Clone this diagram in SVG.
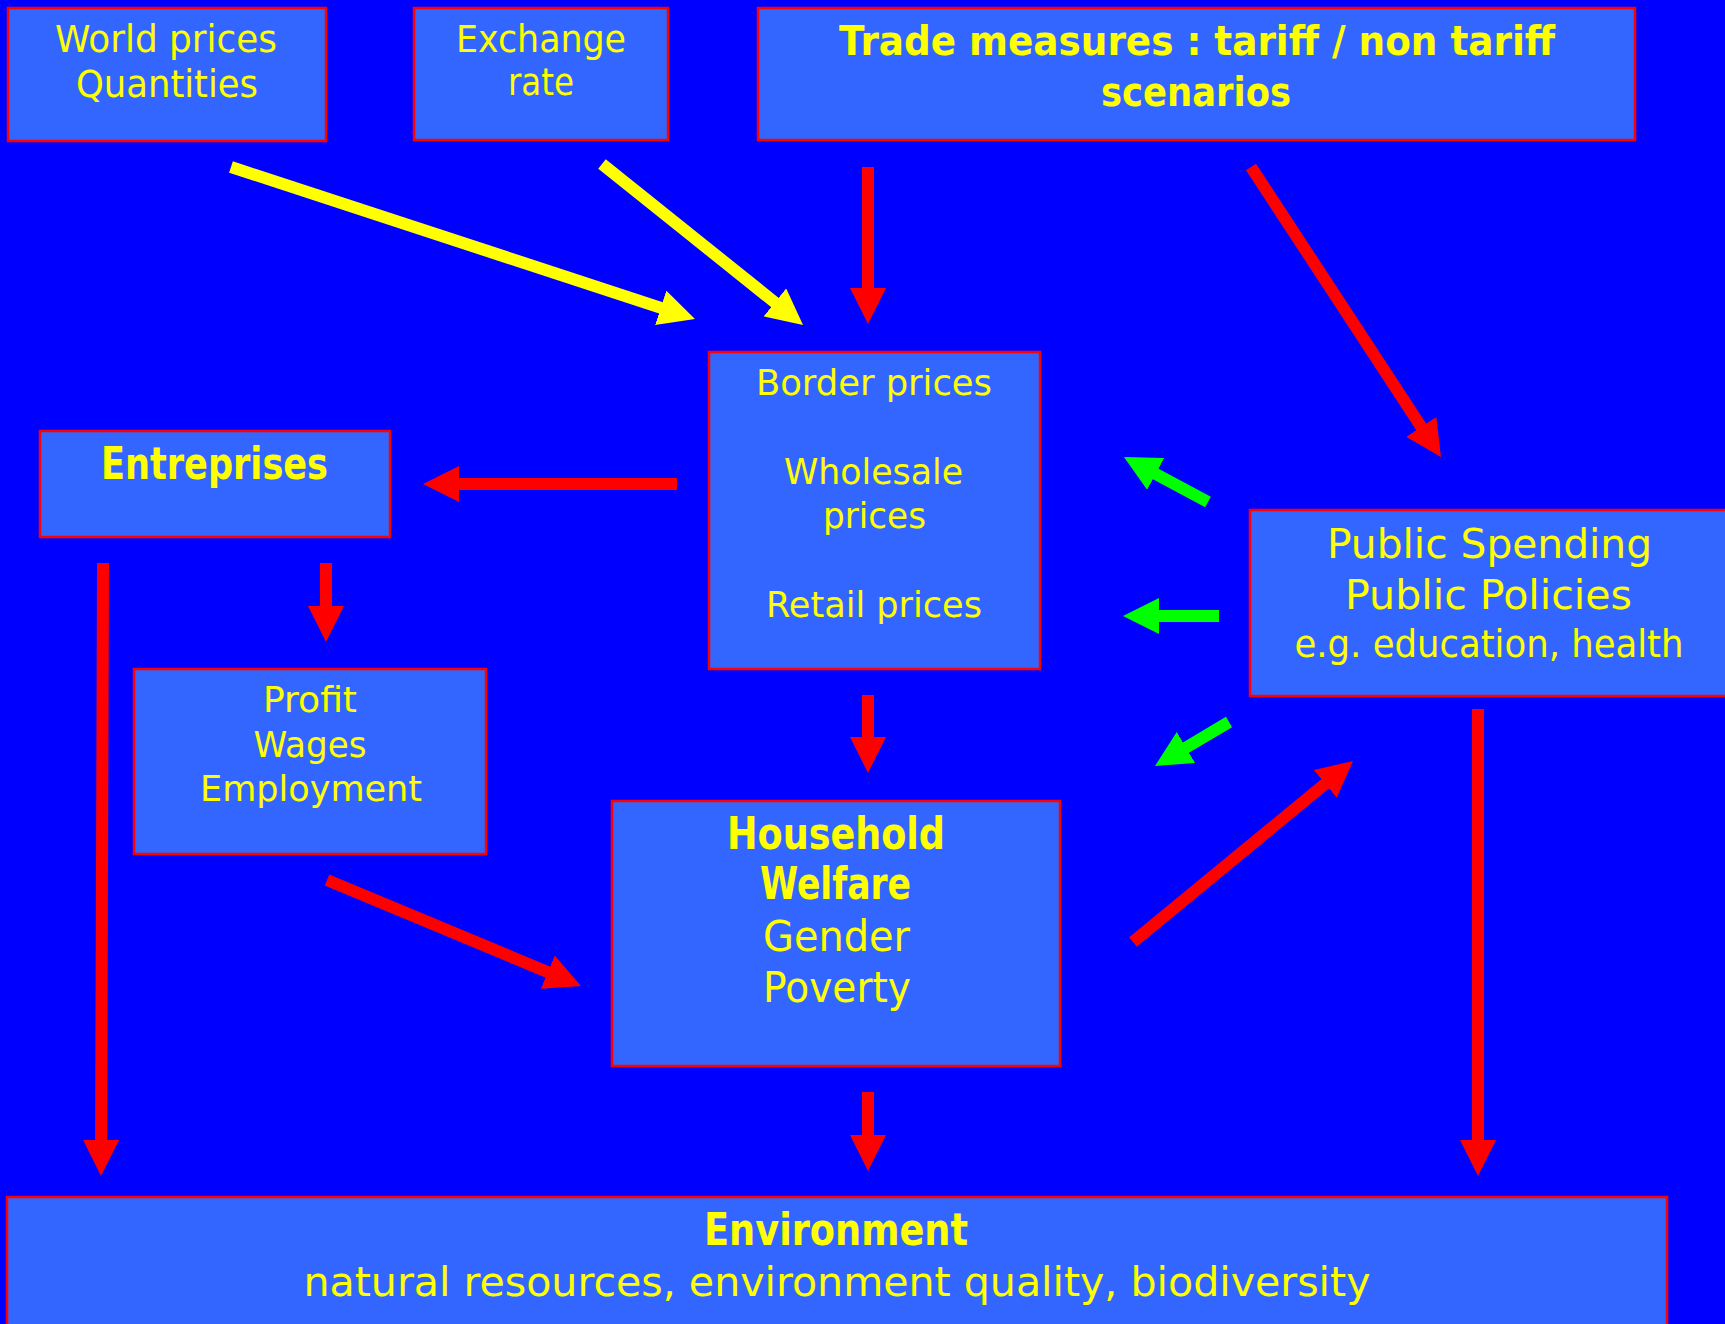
<svg xmlns="http://www.w3.org/2000/svg" width="1725" height="1324" viewBox="0 0 1725 1324">
<defs>
<style>
.box{fill:#3366FF;stroke:#FF0000;stroke-width:2.5}
.t{font-family:"DejaVu Sans",sans-serif;fill:#FFFF00;text-anchor:middle}
.b{font-weight:bold}
.r{stroke:#FF0000;stroke-width:12;fill:none}
.y{stroke:#FFFF00;stroke-width:12;fill:none}
.g{stroke:#00FF00;stroke-width:12;fill:none}
</style>
<marker id="hr" markerUnits="userSpaceOnUse" markerWidth="37" markerHeight="36" refX="1" refY="18" orient="auto"><path d="M0,0 L36,18 L0,36 Z" fill="#FF0000"/></marker>
<marker id="hy" markerUnits="userSpaceOnUse" markerWidth="37" markerHeight="36" refX="1" refY="18" orient="auto"><path d="M0,0 L36,18 L0,36 Z" fill="#FFFF00"/></marker>
<marker id="hg" markerUnits="userSpaceOnUse" markerWidth="37" markerHeight="36" refX="1" refY="18" orient="auto"><path d="M0,0 L36,18 L0,36 Z" fill="#00FF00"/></marker>
</defs>
<rect x="0" y="0" width="1725" height="1324" fill="#0000FF"/>

<g id="world">
<rect class="box" x="8" y="8" width="318" height="133"/>
<text class="t" x="166" y="52" font-size="37" textLength="222" lengthAdjust="spacingAndGlyphs">World prices</text>
<text class="t" x="167" y="97" font-size="37" textLength="182" lengthAdjust="spacingAndGlyphs">Quantities</text>
</g>
<g id="exchange">
<rect class="box" x="414" y="8" width="254" height="132"/>
<text class="t" x="541" y="52" font-size="37" textLength="170" lengthAdjust="spacingAndGlyphs">Exchange</text>
<text class="t" x="541" y="95" font-size="37" textLength="66" lengthAdjust="spacingAndGlyphs">rate</text>
</g>
<g id="trade">
<rect class="box" x="758" y="8" width="877" height="132"/>
<text class="t b" x="1197" y="55" font-size="41" textLength="716" lengthAdjust="spacingAndGlyphs">Trade measures : tariff / non tariff</text>
<text class="t b" x="1196" y="106" font-size="41" textLength="190" lengthAdjust="spacingAndGlyphs">scenarios</text>
</g>
<g id="prices">
<rect class="box" x="709" y="352" width="331" height="317"/>
<text class="t" x="874" y="395" font-size="35" textLength="236" lengthAdjust="spacingAndGlyphs">Border prices</text>
<text class="t" x="873.5" y="484" font-size="35" textLength="179" lengthAdjust="spacingAndGlyphs">Wholesale</text>
<text class="t" x="874.5" y="528" font-size="35" textLength="103" lengthAdjust="spacingAndGlyphs">prices</text>
<text class="t" x="874" y="617" font-size="35" textLength="216" lengthAdjust="spacingAndGlyphs">Retail prices</text>
</g>
<g id="entreprises">
<rect class="box" x="40" y="431" width="350" height="106"/>
<text class="t b" x="214.5" y="479" font-size="44" textLength="227" lengthAdjust="spacingAndGlyphs">Entreprises</text>
</g>
<g id="profit">
<rect class="box" x="134" y="669" width="352" height="185"/>
<text class="t" x="310" y="712" font-size="36" textLength="94" lengthAdjust="spacingAndGlyphs">Profit</text>
<text class="t" x="310" y="757" font-size="36" textLength="113" lengthAdjust="spacingAndGlyphs">Wages</text>
<text class="t" x="311" y="801" font-size="36" textLength="222" lengthAdjust="spacingAndGlyphs">Employment</text>
</g>
<g id="household">
<rect class="box" x="612" y="801" width="448" height="265"/>
<text class="t b" x="836" y="849" font-size="44" textLength="218" lengthAdjust="spacingAndGlyphs">Household</text>
<text class="t b" x="835.5" y="899" font-size="44" textLength="151" lengthAdjust="spacingAndGlyphs">Welfare</text>
<text class="t" x="836.5" y="951" font-size="42" textLength="147" lengthAdjust="spacingAndGlyphs">Gender</text>
<text class="t" x="837" y="1002" font-size="42" textLength="148" lengthAdjust="spacingAndGlyphs">Poverty</text>
</g>
<g id="public">
<rect class="box" x="1250" y="510" width="485" height="186"/>
<text class="t" x="1489.5" y="558" font-size="41" textLength="325" lengthAdjust="spacingAndGlyphs">Public Spending</text>
<text class="t" x="1488.5" y="609" font-size="41" textLength="287" lengthAdjust="spacingAndGlyphs">Public Policies</text>
<text class="t" x="1489" y="657" font-size="37" textLength="389" lengthAdjust="spacingAndGlyphs">e.g. education, health</text>
</g>
<g id="environment">
<rect class="box" x="7" y="1197" width="1660" height="140"/>
<text class="t b" x="836" y="1245" font-size="44" textLength="264" lengthAdjust="spacingAndGlyphs">Environment</text>
<text class="t" x="837" y="1296" font-size="41" textLength="1067" lengthAdjust="spacingAndGlyphs">natural resources, environment quality, biodiversity</text>
</g>

<g id="connectors">
<line class="y" x1="231" y1="167" x2="661.7" y2="308.1" marker-end="url(#hy)"/>
<line class="y" x1="602" y1="164" x2="775.7" y2="303.1" marker-end="url(#hy)"/>
<line class="r" x1="868" y1="167" x2="868" y2="289" marker-end="url(#hr)"/>
<line class="r" x1="1251" y1="167" x2="1421.8" y2="427.7" marker-end="url(#hr)"/>
<line class="r" x1="677" y1="484" x2="458" y2="484" marker-end="url(#hr)"/>
<line class="r" x1="326" y1="563" x2="326" y2="607" marker-end="url(#hr)"/>
<line class="r" x1="103" y1="563" x2="101.1" y2="1141" marker-end="url(#hr)"/>
<line class="r" x1="868" y1="695" x2="868" y2="738" marker-end="url(#hr)"/>
<line class="r" x1="327" y1="880" x2="548.7" y2="972.5" marker-end="url(#hr)"/>
<line class="r" x1="868" y1="1092" x2="868" y2="1136" marker-end="url(#hr)"/>
<line class="r" x1="1133" y1="942" x2="1326" y2="783.2" marker-end="url(#hr)"/>
<line class="r" x1="1478" y1="709" x2="1478" y2="1141" marker-end="url(#hr)"/>
<line class="g" x1="1208" y1="502" x2="1154.8" y2="473.5" marker-end="url(#hg)"/>
<line class="g" x1="1219" y1="616" x2="1158" y2="616" marker-end="url(#hg)"/>
<line class="g" x1="1229" y1="722" x2="1185.1" y2="748.1" marker-end="url(#hg)"/>
</g>
</svg>
